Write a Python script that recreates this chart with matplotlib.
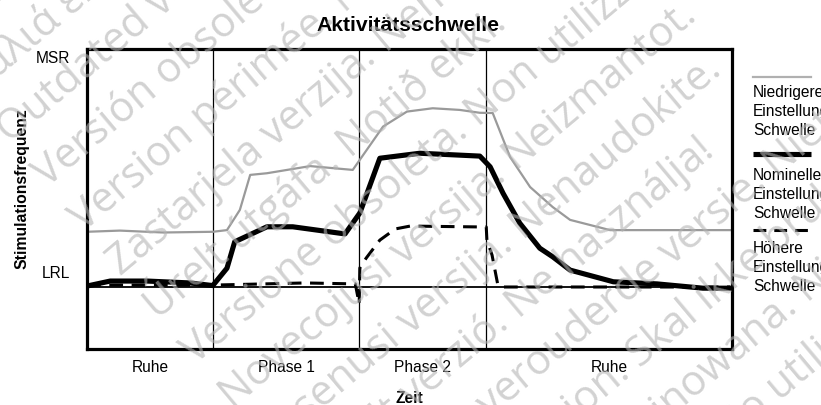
import numpy as np
import matplotlib
matplotlib.use("Agg")
import matplotlib.pyplot as plt
from matplotlib.lines import Line2D

plt.rcParams['font.family'] = ['Liberation Sans', 'DejaVu Sans']

# ---- data -------------------------------------------------------------
# time runs 0..100 (arbitrary units); rate axis: LRL = 0, MSR = 100
phase_bounds = [0, 19.5, 42.2, 61.9, 100]
phase_names = ["Ruhe", "Phase 1", "Phase 2", "Ruhe"]
LRL = 0
MSR = 100

# lower setting threshold (grey)
low_t = [0, 5.1, 11.8, 19.5, 21.7, 23.7, 25.3, 27.9, 34.6, 41.2, 45.9, 49.6,
         53.6, 57.8, 60.9, 62.9, 65.6, 68.7, 72.2, 74.9, 81.1, 99.7]
low_v = [23.2, 23.7, 22.9, 23.2, 23.9, 32.4, 47.1, 47.8, 50.8, 49.2, 67.4, 73.7,
         75.1, 74.4, 73.2, 73.1, 54.6, 42.0, 33.6, 28.2, 23.9, 23.9]

# nominal setting threshold (thick black)
nom_t = [0, 3.6, 9.3, 16.0, 19.5, 21.7, 22.9, 27.9, 31.9, 40.0, 42.3, 45.4,
         51.6, 60.9, 62.5, 64.5, 67.1, 70.2, 72.2, 74.9, 81.6, 88.4, 95.5, 99.7]
nom_v = [0.4, 2.5, 2.5, 1.7, 0.6, 7.9, 19.0, 25.3, 25.3, 22.3, 31.1, 54.1,
         56.2, 55.0, 50.5, 39.4, 26.8, 16.3, 12.7, 7.1, 2.2, 1.3, -0.5, -0.5]

# higher setting threshold (dashed)
high_t = [0, 19.5, 33.8, 41.6, 42.2, 42.3, 43.3, 45.4, 47.8, 50.1, 61.9, 62.0,
          62.8, 63.7, 64.3, 99.7]
high_v = [0.8, 0.8, 1.7, 1.3, -7.1, 8.0, 12.2, 19.7, 24.4, 25.6, 25.2, 19.7,
          13.4, 0.8, 0.0, 0.0]

legend_words = [["Niedrigere", "Einstellung", "Schwelle"],
                ["Nominelle", "Einstellung", "Schwelle"],
                ["Höhere", "Einstellung", "Schwelle"]]

stamp_lines = [
    "Aegunud versioon. Ärge kasutage.",
    "Παλιά έκδοση. Μην την χρησιμοποιείτε.",
    "Outdated version. Do not use.",
    "Versión obsoleta. No utilizar.",
    "Version périmée. Ne pas utiliser.",
    "Zastarjela verzija. Nemojte upotrebljavati.",
    "Úrelt útgáfa. Notið ekki.",
    "Versione obsoleta. Non utilizzare.",
    "Novecojusi versija. Neizmantot.",
    "Pasenusi versija. Nenaudokite.",
    "Elavult verzió. Ne használja!",
    "Dit is een verouderde versie. Niet gebruiken.",
    "Utdatert versjon. Skal ikke brukes.",
    "Wersja przeterminowana. Nie używać.",
    "Versão obsoleta. Não utilize.",
]

# ---- figure -----------------------------------------------------------
W, H = 821, 405
fig = plt.figure(figsize=(W / 100, H / 100), dpi=100)


def fx(px):
    return px / W


def fy(py):
    return 1 - py / H


ax = fig.add_axes([fx(87), fy(349), (732 - 87) / W, (349 - 49) / H])
ax.set_xlim(phase_bounds[0], phase_bounds[-1])
ax.set_ylim(-26.05, MSR)
ax.set_xticks([])
ax.set_yticks([])
for sp in ax.spines.values():
    sp.set_linewidth(2.3)
    sp.set_color('black')

for b in phase_bounds[1:-1]:
    ax.axvline(b, color='black', lw=0.9, zorder=1)
ax.axhline(LRL, color='black', lw=1.3, zorder=1)

ax.plot(low_t, low_v, color='#9a9a9a', lw=1.6, solid_joinstyle='round', zorder=2)
ax.plot(high_t, high_v, color='black', lw=2.2, linestyle=(0, (4.5, 2.8)), zorder=3)
ax.plot(nom_t, nom_v, color='black', lw=3.7, solid_joinstyle='round', zorder=4)

# level labels
ax.annotate("MSR", xy=(0, MSR), xycoords=('axes fraction', 'data'),
            xytext=(-17, -14), textcoords='offset pixels',
            ha='right', va='baseline', fontsize=11.2)
ax.annotate("LRL", xy=(0, LRL), xycoords=('axes fraction', 'data'),
            xytext=(-17, 9), textcoords='offset pixels',
            ha='right', va='baseline', fontsize=11.2)

# phase names under the axis
for i, name in enumerate(phase_names):
    mid = (phase_bounds[i] + phase_bounds[i + 1]) / 2
    ax.annotate(name, xy=(mid, 0), xycoords=('data', 'axes fraction'),
                xytext=(0, -23), textcoords='offset pixels',
                ha='center', va='baseline', fontsize=11.2)

fig.text(fx(408), fy(31), "Aktivitätsschwelle", ha='center', va='baseline',
         fontsize=15.2, fontweight='bold')
fig.text(fx(409), fy(403), "Zeit", ha='center', va='baseline',
         fontsize=11.2, fontweight='bold')
fig.text(fx(21.5), fy(189), "Stimulationsfrequenz", ha='center', va='center',
         rotation=90, fontsize=11.3, fontweight='bold')

# legend drawn beside the plot
styles = [dict(color='#b0b0b0', lw=1.6),
          dict(color='black', lw=3.7, solid_capstyle='butt'),
          dict(color='black', lw=2.2, linestyle=(0, (4.2, 2.6)), dash_capstyle='butt')]
line_y = [77, 154, 230]
text_y = [[97, 116, 135], [180, 199, 218], [253, 272, 291]]
for st, ly, words, tys in zip(styles, line_y, legend_words, text_y):
    fig.add_artist(Line2D([fx(753), fx(811)], [fy(ly), fy(ly)], **st))
    for w, ty in zip(words, tys):
        fig.text(fx(753), fy(ty), w, ha='left', va='baseline', fontsize=11.2)

# diagonal stamp across the sheet
deg = 40
ang = np.deg2rad(deg)
nrm = np.array([np.sin(ang), np.cos(ang)])
dirv = np.array([np.cos(ang), -np.sin(ang)])
for k, s in enumerate(stamp_lines):
    p = (0.6 + 57.75 * k) * nrm + (-85) * dirv
    fig.text(fx(p[0]), fy(p[1]), s, rotation=deg, rotation_mode='anchor',
             ha='left', va='baseline', fontsize=30,
             family=['Open Sans', 'DejaVu Sans'],
             color='#b4b4b4', alpha=0.6, zorder=20)

fig.savefig("out.png", dpi=100)
